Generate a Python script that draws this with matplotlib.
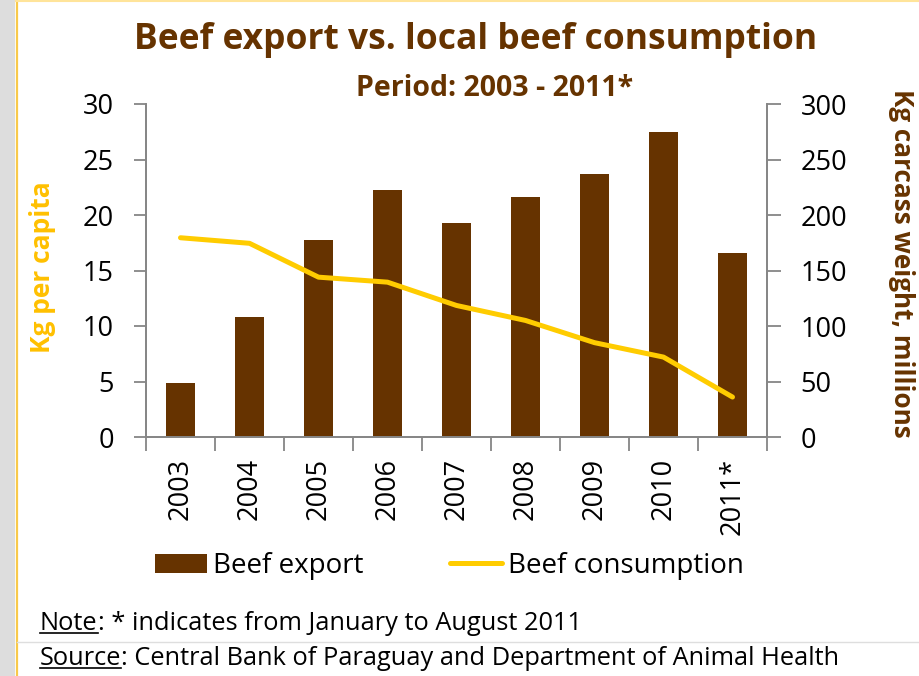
import matplotlib
matplotlib.use("Agg")
import matplotlib.pyplot as plt
from matplotlib.lines import Line2D
from matplotlib.patches import Rectangle
import numpy as np

plt.rcParams['font.family'] = ['Open Sans', 'DejaVu Sans']

# ---- data ----
years = ["2003", "2004", "2005", "2006", "2007", "2008", "2009", "2010", "2011*"]
beef_export = [48.5, 108.5, 177.5, 222.5, 193.0, 216.5, 237.0, 275.0, 165.5]   # Kg carcass weight, millions
beef_consumption = [17.95, 17.45, 14.4, 13.95, 11.85, 10.5, 8.5, 7.2, 3.6]      # Kg per capita
left_ticks = [0, 5, 10, 15, 20, 25, 30]
right_ticks = [0, 50, 100, 150, 200, 250, 300]

BROWN = "#663300"
YELLOW = "#FFCC00"
YLABEL_YELLOW = "#FFC000"
AXGRAY = "#868686"

W, H = 920, 676
fig = plt.figure(figsize=(W / 100, H / 100), dpi=100)
fig.patch.set_facecolor("white")

def fx(px):
    return px / W

def fy(py):
    return 1 - py / H

# decorative frame
fig.add_artist(Rectangle((0, 0), fx(15), 1, transform=fig.transFigure,
                         facecolor="#dddddd", edgecolor="none", zorder=0))
fig.add_artist(Line2D([fx(16.5), fx(16.5)], [0, 1], transform=fig.transFigure,
                      color="#F8C94A", lw=1.6))
fig.add_artist(Line2D([fx(16), 1], [fy(0.6), fy(0.6)], transform=fig.transFigure,
                      color="#FFE49A", lw=1.5))
fig.add_artist(Line2D([fx(17), 1], [fy(642), fy(642)], transform=fig.transFigure,
                      color="#dedede", lw=1.0))

# axes
left, right, top, bottom = 146, 767, 104, 437
ax = fig.add_axes([fx(left), fy(bottom), fx(right - left), (bottom - top) / H])
ax2 = ax.twinx()

x = np.arange(len(years))
bars = ax2.bar(x, beef_export, width=0.43, color=BROWN, zorder=2, label="Beef export")
line, = ax.plot(x, beef_consumption, color=YELLOW, lw=3.6, solid_capstyle="round",
                solid_joinstyle="round", label="Beef consumption", zorder=3)

ax.set_zorder(ax2.get_zorder() + 1)
ax.patch.set_visible(False)

ax.set_xlim(-0.5, len(years) - 0.5)
ax.set_ylim(0, 30)
ax2.set_ylim(0, 300)
ax.set_yticks(left_ticks)
ax2.set_yticks(right_ticks)

ax.set_xticks(np.arange(len(years) + 1) - 0.5)
ax.set_xticklabels([])
ax.set_xticks(x, minor=True)
ax.set_xticklabels(years, minor=True, rotation=90, fontsize=19.5, va="top", ha="center")
ax.tick_params(axis="x", which="major", length=10, width=1.3, color=AXGRAY, direction="out")
ax.tick_params(axis="x", which="minor", length=0, pad=15)
ax.tick_params(axis="y", length=9, width=1.3, color=AXGRAY, labelsize=19.5, pad=14)
ax2.tick_params(axis="y", length=10, width=1.3, color=AXGRAY, labelsize=19.5, pad=14)

for a in (ax, ax2):
    a.spines["top"].set_visible(False)
    for s in ("left", "right", "bottom"):
        a.spines[s].set_color(AXGRAY)
        a.spines[s].set_linewidth(1.3)

# titles
fig.text(fx(476), fy(40), "Beef export vs. local beef consumption", ha="center", va="center",
         fontsize=25.5, fontweight="bold", color=BROWN)
fig.text(fx(633), fy(88), "Period: 2003 - 2011*", ha="right", va="center",
         fontsize=20.5, fontweight="bold", color=BROWN)

# axis labels
fig.text(fx(43), fy(267), "Kg per capita", rotation=90, ha="center", va="center",
         fontsize=19, fontweight="bold", color=YLABEL_YELLOW)
fig.text(fx(902), fy(263), "Kg carcass weight, millions", rotation=270, ha="center", va="center",
         fontsize=18.8, fontweight="bold", color=BROWN)

# legend
fig.legend(handles=[bars, line], labels=["Beef export", "Beef consumption"],
           loc="center left", bbox_to_anchor=(fx(155), fy(566)), ncol=2, frameon=False,
           fontsize=20, handlelength=1.87, handleheight=0.68, handletextpad=0.22,
           columnspacing=3.1, borderpad=0, borderaxespad=0)

# notes with underlined heads
fig.canvas.draw()
renderer = fig.canvas.get_renderer()

def underlined_line(head, rest, x_px, base_px, size=18.3):
    t = fig.text(fx(x_px), fy(base_px), head, ha="left", va="baseline", fontsize=size, color="black")
    bb = t.get_window_extent(renderer=renderer)
    fig.text(bb.x1 / W, fy(base_px), rest, ha="left", va="baseline", fontsize=size, color="black")
    uy = fy(base_px + 3)
    fig.add_artist(Line2D([bb.x0 / W, bb.x1 / W], [uy, uy], transform=fig.transFigure,
                          color="black", lw=1.2))

underlined_line("Note", ": * indicates from January to August 2011", 40, 630)
underlined_line("Source", ": Central Bank of Paraguay and Department of Animal Health", 40, 665)

fig.savefig("out.png", dpi=100, facecolor="white")
